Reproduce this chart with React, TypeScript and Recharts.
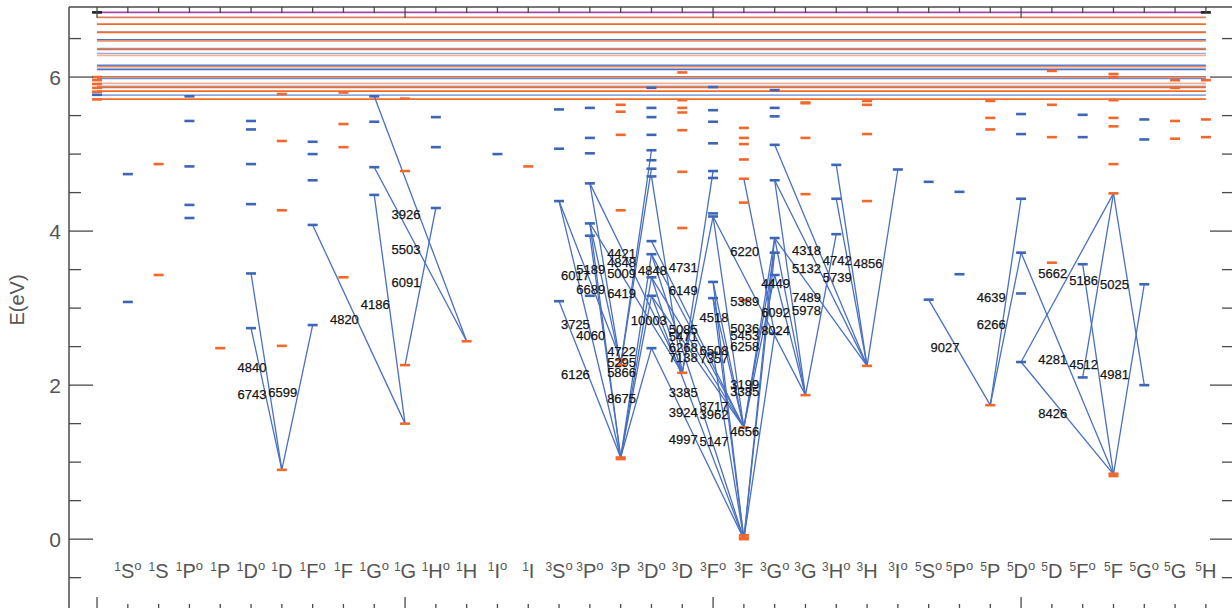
import { ScatterChart, Scatter, XAxis, YAxis, ReferenceLine } from 'recharts';

// term columns, "o" marks odd parity
const TERMS = [
  '1So', '1S', '1Po', '1P', '1Do', '1D', '1Fo', '1F', '1Go', '1G', '1Ho', '1H', '1Io', '1I',
  '3So', '3Po', '3P', '3Do', '3D', '3Fo', '3F', '3Go', '3G', '3Ho', '3H', '3Io',
  '5So', '5Po', '5P', '5Do', '5D', '5Fo', '5F', '5Go', '5G', '5H',
];

const LEVELS_SINGLET: [string, number[]][] = [
  ['1So', [4.74, 3.08]],
  ['1S', [4.87, 3.43]],
  ['1Po', [5.75, 5.43, 4.84, 4.34, 4.17]],
  ['1P', [2.48]],
  ['1Do', [5.43, 5.32, 4.87, 4.35, 3.45, 2.74]],
  ['1D', [5.78, 5.17, 4.27, 2.51, 0.9]],
  ['1Fo', [5.16, 5.0, 4.66, 4.08, 2.78]],
  ['1F', [5.8, 5.39, 5.09, 3.4]],
  ['1Go', [5.75, 5.42, 4.83, 4.47]],
  ['1G', [5.72, 4.78, 2.26, 1.5]],
  ['1Ho', [5.48, 5.09, 4.3]],
  ['1H', [2.57]],
  ['1Io', [5.0]],
  ['1I', [4.84]],
];

const LEVELS_TRIPLET: [string, number[]][] = [
  ['3So', [5.58, 5.07, 4.39, 3.09]],
  ['3Po', [5.6, 5.21, 5.01, 4.62, 4.1, 3.94, 3.16]],
  ['3P', [5.64, 5.55, 5.25, 4.27, 2.33, 2.26, 1.06, 1.04]],
  ['3Do', [5.86, 5.6, 5.48, 5.25, 5.05, 4.92, 4.81, 4.71, 3.87, 3.7, 3.4, 3.16, 2.48]],
  ['3D', [6.06, 5.7, 5.6, 5.54, 5.31, 4.77, 4.04, 2.16]],
  ['3Fo', [5.87, 5.57, 5.42, 5.14, 4.78, 4.69, 4.23, 4.19, 3.34, 3.13, 2.42]],
  ['3F', [5.34, 5.21, 5.13, 4.93, 4.68, 4.37, 3.1, 1.45, 0.05, 0.02, 0.0]],
  ['3Go', [5.83, 5.6, 5.49, 5.12, 4.66, 3.91, 3.72, 3.43, 2.67]],
  ['3G', [5.67, 5.66, 5.21, 4.48, 1.87]],
  ['3Ho', [4.86, 4.42, 3.96]],
  ['3H', [5.69, 5.64, 5.26, 4.39, 2.25]],
  ['3Io', [4.8]],
];

const LEVELS_QUINTET: [string, number[]][] = [
  ['5So', [4.64, 3.11]],
  ['5Po', [4.51, 3.44]],
  ['5P', [5.69, 5.47, 5.32, 1.74]],
  ['5Do', [5.52, 5.26, 4.42, 3.72, 3.19, 2.3]],
  ['5D', [6.08, 5.64, 5.22, 3.59]],
  ['5Fo', [5.51, 5.22, 3.57, 2.1]],
  ['5F', [6.04, 6.0, 5.7, 5.47, 5.36, 4.87, 4.49, 0.85, 0.82]],
  ['5Go', [5.45, 5.19, 3.31, 2.0]],
  ['5G', [5.96, 5.86, 5.43, 5.2]],
  ['5H', [5.96, 5.45, 5.22]],
];

// [upper term, E, lower term, E, wavelength label]
const LINES_SINGLET: [string, number, string, number, string][] = [
  ['1Do', 3.45, '1D', 0.9, '4840'],
  ['1Do', 2.74, '1D', 0.9, '6743'],
  ['1Fo', 2.78, '1D', 0.9, '6599'],
  ['1Fo', 4.08, '1G', 1.5, '4820'],
  ['1Go', 4.47, '1G', 1.5, '4186'],
  ['1Ho', 4.3, '1G', 2.26, '6091'],
  ['1Go', 5.75, '1H', 2.57, '3926'],
  ['1Go', 4.83, '1H', 2.57, '5503'],
];

const LINES_TRIPLET: [string, number, string, number, string][] = [
  ['3So', 4.39, '3P', 2.33, '6017'],
  ['3So', 4.39, '3P', 1.06, '3725'],
  ['3So', 3.09, '3P', 1.06, '6126'],
  ['3Po', 4.62, '3P', 2.26, '5189'],
  ['3Po', 4.1, '3P', 2.26, '6689'],
  ['3Po', 4.1, '3P', 1.06, '4060'],
  ['3Po', 3.94, '3P', 1.06, ''],
  ['3Po', 4.62, '3D', 2.16, '5009'],
  ['3Po', 4.1, '3D', 2.16, '6419'],
  ['3Do', 5.05, '3P', 2.26, '4421'],
  ['3Do', 4.81, '3P', 2.26, '4848'],
  ['3Do', 3.7, '3P', 1.06, '4722'],
  ['3Do', 3.4, '3P', 1.06, '5295'],
  ['3Do', 3.16, '3P', 1.06, '5866'],
  ['3Do', 2.48, '3P', 1.06, '8675'],
  ['3Do', 4.71, '3D', 2.16, '4848'],
  ['3Do', 3.4, '3D', 2.16, '10003'],
  ['3Fo', 4.78, '3D', 2.16, '4731'],
  ['3Fo', 4.19, '3D', 2.16, '6149'],
  ['3Do', 3.87, '3F', 1.45, '5085'],
  ['3Do', 3.7, '3F', 1.45, '5471'],
  ['3Do', 3.4, '3F', 1.45, '6268'],
  ['3Do', 3.16, '3F', 1.45, '7138'],
  ['3Fo', 3.34, '3F', 1.45, '6508'],
  ['3Fo', 3.13, '3F', 1.45, '7357'],
  ['3Fo', 4.19, '3F', 1.45, '4518'],
  ['3Do', 3.7, '3F', 0.0, '3385'],
  ['3Do', 3.16, '3F', 0.0, '3924'],
  ['3Do', 2.48, '3F', 0.0, '4997'],
  ['3Fo', 3.34, '3F', 0.0, '3717'],
  ['3Fo', 3.13, '3F', 0.0, '3962'],
  ['3Fo', 2.42, '3F', 0.0, '5147'],
  ['3F', 4.68, '3Go', 2.67, '6220'],
  ['3Fo', 4.19, '3G', 1.87, '5389'],
  ['3Go', 3.91, '3F', 1.45, '5036'],
  ['3Go', 3.72, '3F', 1.45, '5453'],
  ['3Go', 3.43, '3F', 1.45, '6258'],
  ['3Go', 3.91, '3F', 0.0, '3199'],
  ['3Go', 3.72, '3F', 0.0, '3385'],
  ['3Go', 2.67, '3F', 0.0, '4656'],
  ['3Go', 4.66, '3G', 1.87, '4449'],
  ['3Go', 3.91, '3G', 1.87, '6092'],
  ['3Go', 3.43, '3G', 1.87, '8024'],
  ['3Go', 5.12, '3H', 2.25, '4318'],
  ['3Go', 4.66, '3H', 2.25, '5132'],
  ['3Go', 3.91, '3H', 2.25, '7489'],
  ['3Ho', 3.96, '3G', 1.87, '5978'],
  ['3Ho', 4.86, '3H', 2.25, '4742'],
  ['3Ho', 4.42, '3H', 2.25, '5739'],
  ['3Io', 4.8, '3H', 2.25, '4856'],
];

const LINES_QUINTET: [string, number, string, number, string][] = [
  ['5So', 3.11, '5P', 1.74, '9027'],
  ['5Do', 4.42, '5P', 1.74, '4639'],
  ['5Do', 3.72, '5P', 1.74, '6266'],
  ['5F', 4.49, '5Do', 2.3, '5662'],
  ['5Do', 3.72, '5F', 0.84, '4281'],
  ['5Do', 2.3, '5F', 0.84, '8426'],
  ['5F', 4.49, '5Fo', 2.1, '5186'],
  ['5Fo', 3.57, '5F', 0.84, '4512'],
  ['5F', 4.49, '5Go', 2.0, '5025'],
  ['5Go', 3.31, '5F', 0.84, '4981'],
];

// series limits drawn across the whole diagram: [E, colour]
const LIMITS: [number, string][] = [
  [6.84, '#a24aa8'],
  [6.775, '#d9805e'],
  [6.688, '#f26a2a'],
  [6.589, '#a9bce3'],
  [6.58, '#f26a2a'],
  [6.485, '#4a70c2'],
  [6.468, '#f28a5a'],
  [6.372, '#7f9bd6'],
  [6.359, '#f26a2a'],
  [6.307, '#93acde'],
  [6.281, '#f7b08e'],
  [6.152, '#5b7fcb'],
  [6.134, '#f28a5a'],
  [6.1, '#4a70c2'],
  [6.004, '#f26a2a'],
  [5.983, '#6d8dd0'],
  [5.918, '#f7b08e'],
  [5.879, '#93acde'],
  [5.866, '#f26a2a'],
  [5.818, '#f26a2a'],
  [5.766, '#8fa8dc'],
  [5.714, '#f26a2a'],
];
const LIMIT_TICKS_EVEN = [6.0, 5.96, 5.91, 5.86, 5.81, 5.71];
const LIMIT_TICKS_ODD = [5.77];
const LIMIT_END = [6.84];

const X_TICKS = Array.from({ length: 37 }, (_, i) => i - 1);
const Y_TICKS = [-0.5, 0, 0.5, 1, 1.5, 2, 2.5, 3, 3.5, 4, 4.5, 5, 5.5, 6, 6.5];
const Y_LABELS = [0, 2, 4, 6];

const BLUE = '#3d66b7';
const ORANGE = '#f2672a';
const LINE_BLUE = '#4a70c2';
const AXIS = '#4a4a4a';
const FONT = 'Liberation Sans, Arial, sans-serif';

const col = (t: string) => TERMS.indexOf(t);

const allLevels = [...LEVELS_SINGLET, ...LEVELS_TRIPLET, ...LEVELS_QUINTET];
const oddLevels = allLevels
  .filter(([t]) => t.endsWith('o'))
  .flatMap(([t, es]) => es.map((e) => ({ x: col(t), y: e })))
  .concat(LIMIT_TICKS_ODD.map((e) => ({ x: -1, y: e })));
const evenLevels = allLevels
  .filter(([t]) => !t.endsWith('o'))
  .flatMap(([t, es]) => es.map((e) => ({ x: col(t), y: e })))
  .concat(LIMIT_TICKS_EVEN.map((e) => ({ x: -1, y: e })));
const endTicks = LIMIT_END.flatMap((e) => [{ x: -1, y: e }, { x: TERMS.length - 1, y: e }]);

const allLines = [...LINES_SINGLET, ...LINES_TRIPLET, ...LINES_QUINTET];
const labelPoints = allLines
  .filter((l) => l[4])
  .map(([tu, eu, tl, el, label]) => ({ x: (col(tu) + col(tl)) / 2, y: (eu + el) / 2, label }));

function levelShape(color: string) {
  return (p: any) => <rect x={p.cx - 5} y={p.cy - 1.3} width={10} height={2.6} fill={color} />;
}

function LabelShape(p: any) {
  return (
    <text x={p.cx} y={p.cy} textAnchor="end" fontSize={13} fontFamily={FONT} fill="#151515" stroke="#151515" strokeWidth={0.25}>
      {p.payload.label}
    </text>
  );
}

function TermLabel({ x, y, term }: { x: number; y: number; term: string }) {
  const odd = term.endsWith('o');
  return (
    <text x={x} y={y} textAnchor="middle" fontFamily={FONT} fill="#555">
      <tspan fontSize={12} dy={-7}>{term[0]}</tspan>
      <tspan fontSize={20} dy={7}>{term[1]}</tspan>
      {odd && <tspan fontSize={13} dy={-8}>o</tspan>}
    </text>
  );
}

function BottomTick({ x, y, payload }: any) {
  const v = payload.value;
  const major = (v + 1) % 10 === 0;
  const term = TERMS[v];
  return (
    <g>
      <line x1={x} x2={x} y1={y} y2={y - (major ? 13 : 6)} stroke={AXIS} strokeWidth={1.3} />
      {term && <TermLabel x={x} y={y - 32} term={term} />}
    </g>
  );
}

function TopTick({ x, y, payload }: any) {
  const major = (payload.value + 1) % 10 === 0;
  return <line x1={x} x2={x} y1={y} y2={y + (major ? 11 : 6)} stroke={AXIS} strokeWidth={1.3} />;
}

function LeftTick({ x, y, payload }: any) {
  const v = payload.value;
  const major = Y_LABELS.includes(v);
  return (
    <g>
      <line x1={x} x2={x + (major ? 24 : 12)} y1={y} y2={y} stroke={AXIS} strokeWidth={1.3} />
      {major && (
        <text x={x - 8} y={y} dy="0.36em" textAnchor="end" fontSize={21} fontFamily={FONT} fill="#555">
          {v}
        </text>
      )}
    </g>
  );
}

function RightTick({ x, y, payload }: any) {
  const major = Y_LABELS.includes(payload.value);
  return <line x1={x} x2={x - (major ? 23 : 11)} y1={y} y2={y} stroke={AXIS} strokeWidth={1.3} />;
}

export default function App() {
  const xDomain = [-1.91, 35.88];
  const yDomain = [-0.92, 6.91];
  return (
    <div style={{ position: 'absolute', left: 0, top: 0, width: 1232, height: 608, overflow: 'hidden', background: '#fff' }}>
      <ScatterChart width={1234} height={611} margin={{ top: 6, right: 0, bottom: 0, left: 0 }}>
        <XAxis
          xAxisId="b"
          type="number"
          dataKey="x"
          domain={xDomain}
          ticks={X_TICKS}
          interval={0}
          height={1}
          tickSize={0}
          tickMargin={0}
          axisLine={false}
          tickLine={false}
          tick={<BottomTick />}
          allowDataOverflow
        />
        <XAxis
          xAxisId="t"
          orientation="top"
          type="number"
          dataKey="x"
          domain={xDomain}
          ticks={X_TICKS}
          interval={0}
          height={1}
          tickSize={0}
          tickMargin={0}
          axisLine={false}
          tickLine={false}
          tick={<TopTick />}
          allowDataOverflow
        />
        <YAxis
          yAxisId="l"
          type="number"
          dataKey="y"
          domain={yDomain}
          ticks={Y_TICKS}
          interval={0}
          width={69}
          tickSize={0}
          tickMargin={0}
          axisLine={{ stroke: AXIS, strokeWidth: 1.5 }}
          tickLine={false}
          tick={<LeftTick />}
          allowDataOverflow
          label={{
            content: () => (
              <text x={24} y={300} transform="rotate(-90 24 300)" textAnchor="middle" fontSize={20} fontFamily={FONT} fill="#555">
                E(eV)
              </text>
            ),
          }}
        />
        <YAxis
          yAxisId="r"
          orientation="right"
          type="number"
          domain={yDomain}
          ticks={Y_TICKS}
          interval={0}
          width={1}
          tickSize={0}
          tickMargin={0}
          axisLine={false}
          tickLine={false}
          tick={<RightTick />}
          allowDataOverflow
        />

        <ReferenceLine
          xAxisId="b"
          yAxisId="l"
          segment={[{ x: xDomain[0], y: yDomain[1] }, { x: xDomain[1], y: yDomain[1] }]}
          stroke={AXIS}
          strokeWidth={1.5}
          ifOverflow="visible"
        />

        {LIMITS.map(([e, c], i) => (
          <ReferenceLine
            key={'lim' + i}
            xAxisId="b"
            yAxisId="l"
            segment={[{ x: -1, y: e }, { x: TERMS.length - 1, y: e }]}
            stroke={c}
            strokeWidth={1.6}
            ifOverflow="visible"
          />
        ))}

        {allLines.map(([tu, eu, tl, el], i) => (
          <ReferenceLine
            key={'tr' + i}
            xAxisId="b"
            yAxisId="l"
            segment={[{ x: col(tu), y: eu }, { x: col(tl), y: el }]}
            stroke={LINE_BLUE}
            strokeWidth={1.3}
            ifOverflow="visible"
          />
        ))}

        <Scatter xAxisId="b" yAxisId="l" data={oddLevels} shape={levelShape(BLUE)} isAnimationActive={false} />
        <Scatter xAxisId="b" yAxisId="l" data={evenLevels} shape={levelShape(ORANGE)} isAnimationActive={false} />
        <Scatter xAxisId="b" yAxisId="l" data={endTicks} shape={levelShape('#222')} isAnimationActive={false} />
        <Scatter xAxisId="b" yAxisId="l" data={labelPoints} shape={LabelShape} isAnimationActive={false} />
      </ScatterChart>
    </div>
  );
}
